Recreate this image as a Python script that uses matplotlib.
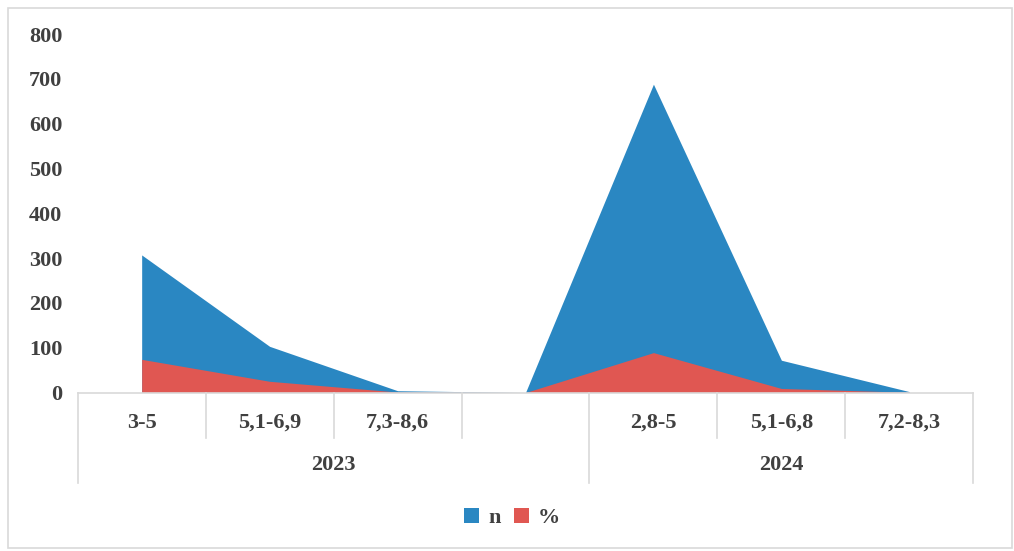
import matplotlib
matplotlib.use('Agg')
import matplotlib.pyplot as plt
from matplotlib.patches import Rectangle

# Category data: pH ranges grouped by year
categories = ["3-5", "5,1-6,9", "7,3-8,6", "", "2,8-5", "5,1-6,8", "7,2-8,3"]
groups = ["2023", "2024"]
group_spans = [(0, 4), (4, 7)]  # category index ranges per year
n_values = [307, 103, 4, 0, 688, 72, 2]
pct_values = [74, 25, 1, 0, 89, 9, 0.4]
y_ticks = [0, 100, 200, 300, 400, 500, 600, 700, 800]

BLUE = '#2A87C2'
RED = '#E05752'
GRID = '#D9D9D9'
TEXT = '#404040'
FS = 16

plt.rcParams['font.family'] = ['Liberation Serif', 'DejaVu Serif']
plt.rcParams['font.weight'] = 'bold'

fig = plt.figure(figsize=(10.14, 5.51), dpi=100)
ax = fig.add_axes([77.7 / 1014, 1 - 392.5 / 551, (973.3 - 77.7) / 1014, 358.5 / 551])

x = list(range(len(categories)))
ax.fill_between(x, 0, n_values, color=BLUE, linewidth=0, label='n')
ax.fill_between(x, 0, pct_values, color=RED, linewidth=0, label='%')

ax.set_xlim(-0.5, len(categories) - 0.5)
ax.set_ylim(0, 800)
ax.set_yticks(y_ticks)
ax.tick_params(axis='y', length=0, pad=11, labelsize=FS, labelcolor=TEXT)
for lbl in ax.get_yticklabels():
    lbl.set_fontweight('bold')
ax.set_xticks([])

for side in ['top', 'right', 'left']:
    ax.spines[side].set_visible(False)
ax.spines['bottom'].set_color(GRID)
ax.spines['bottom'].set_linewidth(1.2)

# Two-level category table below the axis
tr = ax.get_xaxis_transform()
row1 = -45 / 358.5
row2 = -90.5 / 358.5
outer = [g[0] - 0.5 for g in group_spans] + [group_spans[-1][1] - 0.5]
for i in range(len(categories) + 1):
    xb = i - 0.5
    bottom = row2 if xb in outer else row1
    ax.plot([xb, xb], [0, bottom], transform=tr, color=GRID, lw=1.2, clip_on=False)

for i, cat in enumerate(categories):
    ax.text(i, -30 / 358.5, cat, transform=tr, ha='center', va='center',
            fontsize=FS, fontweight='bold', color=TEXT)
for name, (a, b) in zip(groups, group_spans):
    ax.text((a + b - 1) / 2, -73 / 358.5, name, transform=tr, ha='center', va='center',
            fontsize=FS, fontweight='bold', color=TEXT)

leg = fig.legend(loc='center', bbox_to_anchor=(512 / 1014, 1 - 518 / 551), ncol=2,
                 frameon=False, handlelength=0.7, handleheight=0.7, handletextpad=0.4,
                 columnspacing=0.6, prop={'size': FS, 'weight': 'bold'})
for t in leg.get_texts():
    t.set_color(TEXT)

# light frame around the whole chart
fig.patches.append(Rectangle((8 / 1014, 3 / 551), 1004 / 1014, 540 / 551,
                             transform=fig.transFigure, fill=False,
                             edgecolor=GRID, lw=1.2))

fig.savefig('out.png', dpi=100)
